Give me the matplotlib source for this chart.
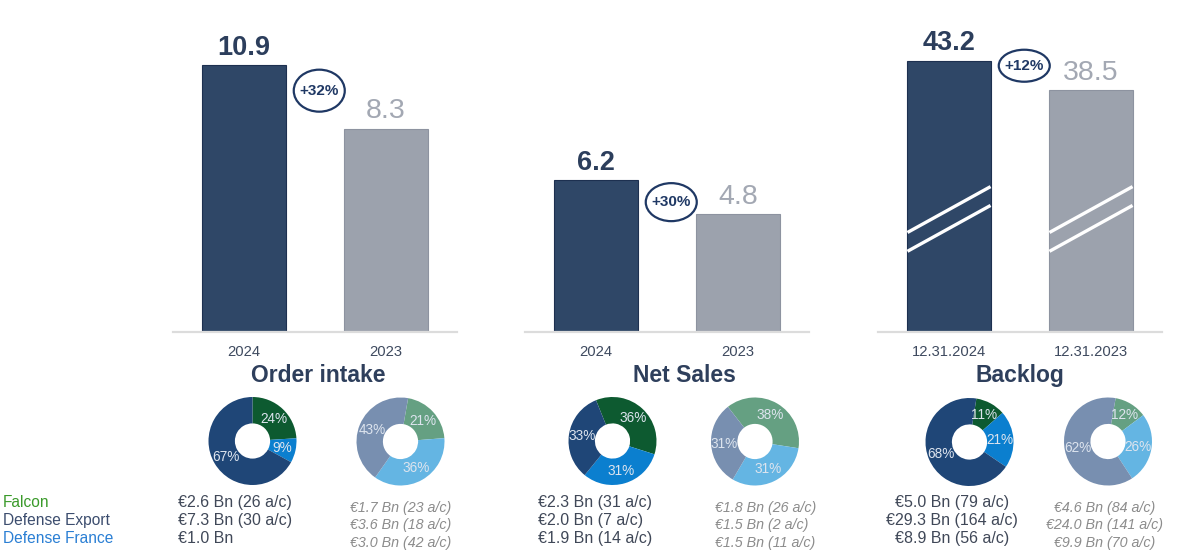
import numpy as np
import matplotlib.pyplot as plt
from matplotlib.patches import Ellipse
from matplotlib.transforms import ScaledTranslation

plt.rcParams['font.family'] = ['Liberation Sans', 'DejaVu Sans']

# ---- data ----
panels = ["Order intake", "Net Sales", "Backlog"]
periods = [["2024", "2023"], ["2024", "2023"], ["12.31.2024", "12.31.2023"]]
totals = [[10.9, 8.3], [6.2, 4.8], [43.2, 38.5]]
growth = ["+32%", "+30%", "+12%"]

segments = ["Falcon", "Defense Export", "Defense France"]
share_2024 = [[24, 67, 9], [36, 33, 31], [11, 68, 21]]
share_2023 = [[21, 43, 36], [38, 31, 31], [12, 62, 26]]
detail_2024 = [
    ["€2.6 Bn (26 a/c)", "€7.3 Bn (30 a/c)", "€1.0 Bn"],
    ["€2.3 Bn (31 a/c)", "€2.0 Bn (7 a/c)", "€1.9 Bn (14 a/c)"],
    ["€5.0 Bn (79 a/c)", "€29.3 Bn (164 a/c)", "€8.9 Bn (56 a/c)"],
]
detail_2023 = [
    ["€1.7 Bn (23 a/c)", "€3.6 Bn (18 a/c)", "€3.0 Bn (42 a/c)"],
    ["€1.8 Bn (26 a/c)", "€1.5 Bn (2 a/c)", "€1.5 Bn (11 a/c)"],
    ["€4.6 Bn (84 a/c)", "€24.0 Bn (141 a/c)", "€9.9 Bn (70 a/c)"],
]

# ---- styles / layout (pixels) ----
W, H = 1200, 553
NAVY = "#2f4767"
GREY = "#9ca2ad"
TXT_DARK = "#2c3e5c"
TXT_GREY = "#a3a8b3"
BADGE = "#1f3864"
seg_colors_2024 = ["#0d5a30", "#1f4677", "#0b7fcf"]
seg_colors_2023 = ["#65a082", "#788fb0", "#64b5e3"]
legend_colors = ["#3a9a2a", "#3c4d6e", "#2a7fd4"]

panel_x0 = [173, 525, 878]
panel_w = 284
baseline = 332
axes_h = 300
px_per_unit = [24.5, 24.5, 6.28]
badge_y = [9.85, 5.3, 42.4]
badge_h = [42, 38, 32]
title_x = [318, 684, 1020]

donut_c = [[(252.5, 441), (400.5, 441.5)],
           [(612.5, 441), (755, 441.5)],
           [(969.5, 442), (1108, 441.5)]]
donut_r = 44
start_2024 = [90, 112, 81]
start_2023 = [80, 128, 80]
text_x_2024 = [(178, "left"), (538, "left"), (952, "center")]
text_x_2023 = [(350, "left"), (715, "left"), (1105, "center")]
lines_y_2024 = [507, 525, 543]
lines_y_2023 = [512, 529.5, 547]
pie_order = [0, 2, 1]  # Falcon, Defense France, Defense Export clockwise


def fx(x):
    return x / W


def fy(y):
    return 1 - y / H


fig = plt.figure(figsize=(W / 100, H / 100), dpi=100)
fig.patch.set_facecolor("white")

for i in range(3):
    ax = fig.add_axes([fx(panel_x0[i]), fy(baseline), panel_w / W, axes_h / H])
    ax.set_xlim(-0.5, 1.5)
    ax.set_ylim(0, axes_h / px_per_unit[i])
    ax.bar([0, 1], totals[i], width=0.585, color=[NAVY, GREY],
           edgecolor=["#1d3050", "#8d93a0"], linewidth=0.8, zorder=2)
    for s in ["top", "left", "right"]:
        ax.spines[s].set_visible(False)
    ax.spines["bottom"].set_color("#dcdcdc")
    ax.spines["bottom"].set_linewidth(1.6)
    ax.set_yticks([])
    ax.set_xticks([0, 1])
    ax.set_xticklabels(periods[i], fontsize=10.6, color="#3e4a5f")
    ax.tick_params(axis="x", length=0, pad=9)

    # value labels
    ax.annotate(f"{totals[i][0]:.1f}", (0, totals[i][0]), xytext=(0, 7.5),
                textcoords="offset points", ha="center", va="baseline",
                fontsize=19.5, fontweight="bold", color=TXT_DARK)
    ax.annotate(f"{totals[i][1]:.1f}", (1, totals[i][1]), xytext=(0, 7.5),
                textcoords="offset points", ha="center", va="baseline",
                fontsize=20.5, color=TXT_GREY)

    # break marks on backlog bars
    if i == 2:
        mid, gap, rise = 19.5, 3.0, 7.3
        for b in range(2):
            x0, x1 = b - 0.2925, b + 0.2925
            for off in (0, gap):
                ax.plot([x0, x1], [mid - rise / 2 - off, mid + rise / 2 - off],
                        color="white", lw=2.4, solid_capstyle="butt", zorder=3)

    # growth badge
    tr = fig.dpi_scale_trans + ScaledTranslation(0.53, badge_y[i], ax.transData)
    ax.add_patch(Ellipse((0, 0), 51 / 100, badge_h[i] / 100, transform=tr,
                         facecolor="white", edgecolor=BADGE, lw=1.6,
                         zorder=4, clip_on=False))
    ax.text(0.53, badge_y[i], growth[i], ha="center", va="center",
            fontsize=11, fontweight="bold", color=BADGE, zorder=5)

    fig.text(fx(title_x[i]), fy(382), panels[i], ha="center", va="baseline",
             fontsize=16.5, fontweight="bold", color="#2e3f5c")

    # donuts
    for j, (shares, cols, start) in enumerate([
            (share_2024[i], seg_colors_2024, start_2024[i]),
            (share_2023[i], seg_colors_2023, start_2023[i])]):
        cx, cy = donut_c[i][j]
        dax = fig.add_axes([fx(cx - donut_r), fy(cy + donut_r),
                            2 * donut_r / W, 2 * donut_r / H])
        vals = [shares[k] for k in pie_order]
        cc = [cols[k] for k in pie_order]
        dax.pie(vals, colors=cc, startangle=start, counterclock=False,
                autopct="%.0f%%", pctdistance=0.7,
                wedgeprops=dict(width=0.6, linewidth=0),
                textprops=dict(fontsize=9.8, color="#dde4ee"))
        dax.set_xlim(-1, 1)
        dax.set_ylim(-1, 1)

    # details below donuts
    x, ha = text_x_2024[i]
    for k, line in enumerate(detail_2024[i]):
        fig.text(fx(x), fy(lines_y_2024[k]), line, ha=ha, va="baseline",
                 fontsize=11.5, color="#404858")
    x, ha = text_x_2023[i]
    for k, line in enumerate(detail_2023[i]):
        fig.text(fx(x), fy(lines_y_2023[k]), line, ha=ha, va="baseline",
                 fontsize=10.3, style="italic", color="#8c8c8c")

# legend on the left
for k, name in enumerate(segments):
    fig.text(fx(3), fy(lines_y_2024[k]), name, ha="left", va="baseline",
             fontsize=11.2, color=legend_colors[k])

fig.savefig("out.png", dpi=100, facecolor="white")
